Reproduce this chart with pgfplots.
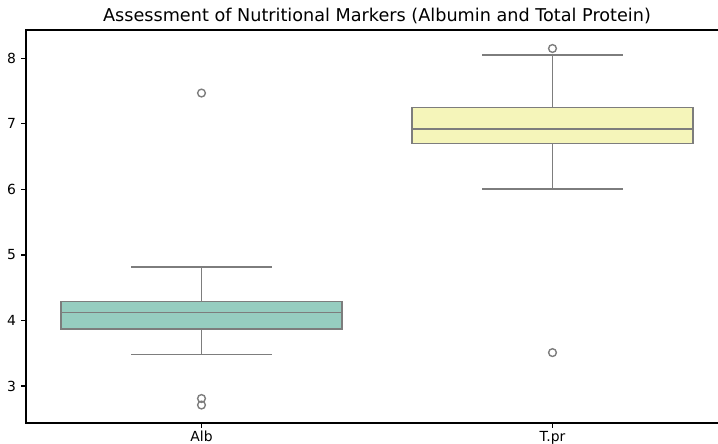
\documentclass[border=0pt]{standalone}
\usepackage{fontspec}
\setmainfont{DejaVu Sans}
\usepackage{pgfplots}
\pgfplotsset{compat=1.18}
\usepgfplotslibrary{statistics}
\definecolor{albc}{RGB}{150,205,192}
\definecolor{tprc}{RGB}{245,245,186}
\definecolor{lc}{RGB}{125,125,125}
\begin{document}
\begin{tikzpicture}
\path[use as bounding box] (-18.72pt,-14.4pt) rectangle ++(516.96pt,318.96pt);
\begin{axis}[at={(0pt,0pt)}, anchor=south west, scale only axis, width=505.44pt, height=282.96pt,
  xmin=-0.5, xmax=1.5, ymin=2.436, ymax=8.432,
  xtick={0,1}, xticklabels={Alb,T.pr}, ytick={3,4,5,6,7,8},
  tick pos=left, tick align=outside, major tick length=3.5pt,
  tick style={black, line width=0.8pt},
  axis line style={black, line width=0.8pt},
  /pgf/number format/assume math mode=true,
  ticklabel style={font=\fontsize{10}{12}\selectfont},
  yticklabel style={inner sep=0pt, xshift=-3.5pt},
  xticklabel style={inner sep=0pt, yshift=-2.0pt},
  title={Assessment of Nutritional Markers (Albumin and Total Protein)},
  title style={at={(0.5,1)}, anchor=base, yshift=-0.2pt, inner sep=0pt, font=\fontsize{12.7}{15}\selectfont},
  boxplot/draw direction=y,
  boxplot/every whisker/.style={draw=lc, solid, line width=1.1pt},
  boxplot/every median/.style={draw=lc, solid, line width=1.1pt},
]
\addplot+[boxplot prepared={draw position=0, median=4.125, upper quartile=4.29, lower quartile=3.87, upper whisker=4.82, lower whisker=3.48, box extend=0.8, whisker extend=0.4},
  draw=lc, fill=albc, solid, line width=1.1pt, mark=o, mark size=2.8pt, mark options={draw=lc, fill=none, line width=1pt}]
  coordinates {(0,7.47) (0,2.81) (0,2.71)};
\addplot+[boxplot prepared={draw position=1, median=6.92, upper quartile=7.25, lower quartile=6.70, upper whisker=8.05, lower whisker=6.01, box extend=0.8, whisker extend=0.4},
  draw=lc, fill=tprc, solid, line width=1.1pt, mark=o, mark size=2.8pt, mark options={draw=lc, fill=none, line width=1pt}]
  coordinates {(1,8.15) (1,3.51)};
\end{axis}
\end{tikzpicture}
\end{document}
